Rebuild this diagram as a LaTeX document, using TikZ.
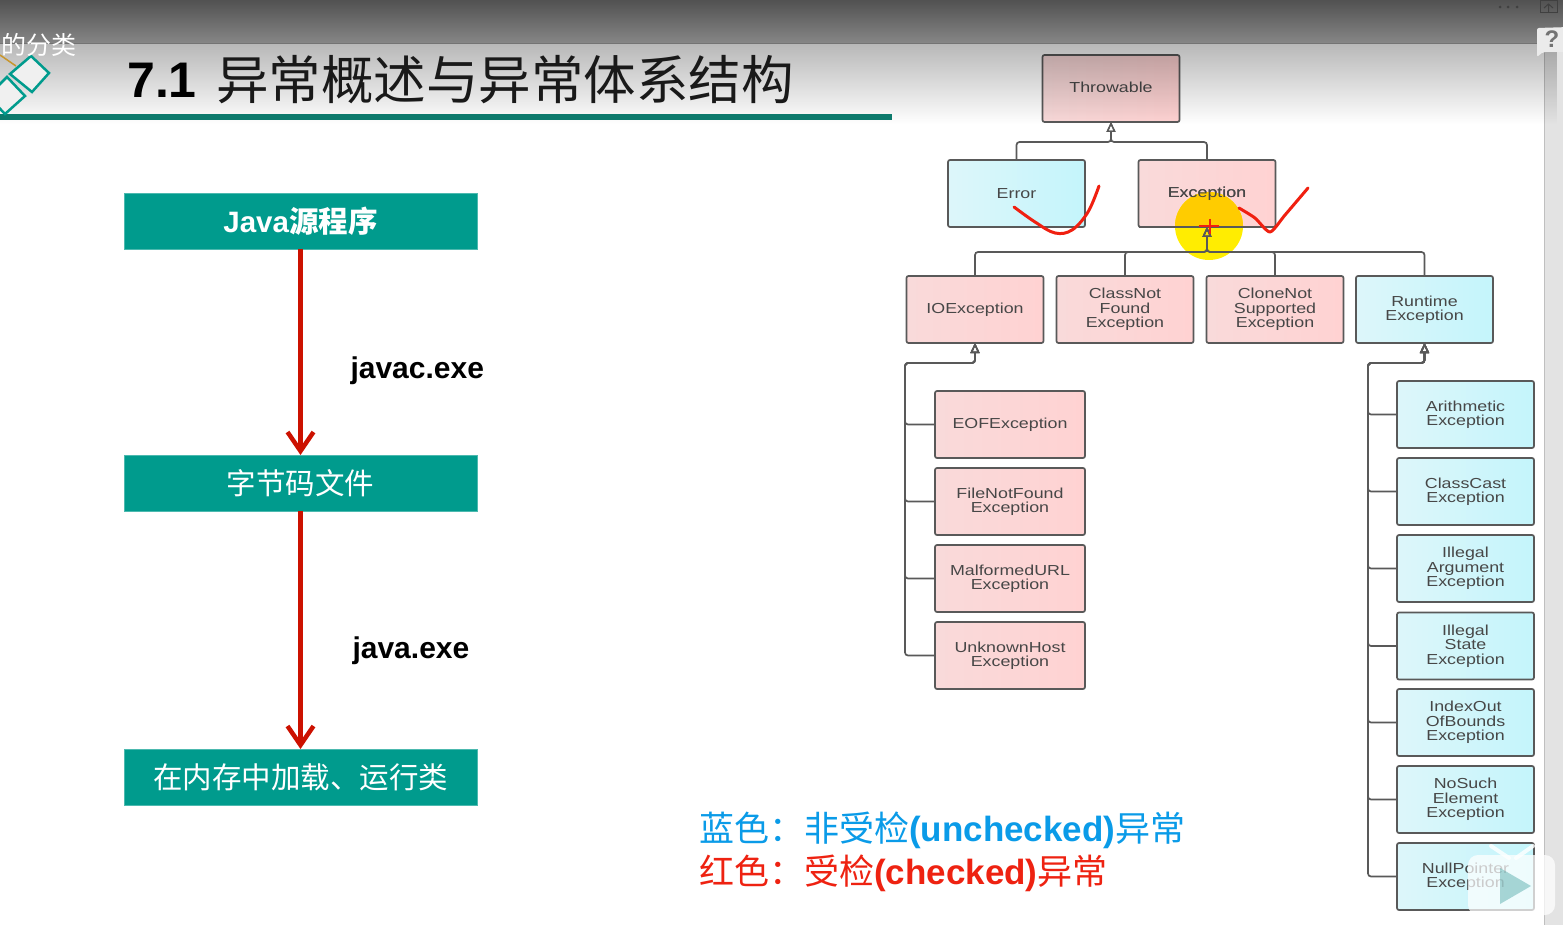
\documentclass[tikz,border=0pt]{standalone}
\usepackage{fontspec}
\setmainfont{Liberation Sans}
\newfontfamily\cjkfont{Noto Sans CJK SC}
\newfontfamily\boxfont[FakeStretch=1.23]{Liberation Sans}
\usetikzlibrary{arrows.meta, fadings}

\definecolor{tealBox}{HTML}{009B8D}
\definecolor{tealRule}{HTML}{0D7A6C}
\definecolor{flowRed}{HTML}{CC1100}
\definecolor{pinkA}{HTML}{F9DADA}
\definecolor{pinkB}{HTML}{FFD2D2}
\definecolor{cyanA}{HTML}{DDF6FA}
\definecolor{cyanB}{HTML}{C4F5FB}
\definecolor{legendBlue}{HTML}{0A9BE8}
\definecolor{legendRed}{HTML}{EE2211}
\definecolor{markRed}{HTML}{F02010}
\definecolor{logoGold}{HTML}{C8962E}

\begin{document}
\begin{tikzpicture}[
		x=1pt, y=-1pt,
		% Style for the flow boxes on the left
		flowBox/.style={fill=tealBox, draw=tealBox!70!white, line width=.8pt, minimum width=353pt, minimum height=56pt, outer sep=0pt, text=white, font=\fontsize{29.5}{32}\selectfont\bfseries},
		flowArrow/.style={draw=flowRed, line width=4.5pt, -{Straight Barb[length=19pt, width=26pt, line width=4.5pt]}},
		flowLabel/.style={font=\fontsize{30}{32}\selectfont\bfseries, text=black, anchor=west},
		% Styles for the class boxes
		classBox/.style={draw=black!65, line width=1.7pt, rounded corners=2pt, outer sep=0pt, minimum height=67pt, align=center, text=black!72, font=\boxfont\fontsize{14.5}{14.3}\selectfont},
		pinkBox/.style={classBox, left color=pinkA, right color=pinkB},
		cyanBox/.style={classBox, left color=cyanA, right color=cyanB},
		narrowBox/.style={minimum width=137pt},
		wideBox/.style={minimum width=150pt},
		conn/.style={draw=black!65, line width=1.7pt, rounded corners=3pt},
		connTip/.style={conn, -{Triangle[open, length=10pt, width=9pt, line width=1.4pt]}},
		redMark/.style={draw=markRed, line width=3pt, line cap=round, line join=round},
		legendText/.style={anchor=west, font=\fontsize{35}{38}\selectfont}
		]
		\useasboundingbox (0,0) rectangle (1563,925);
		\clip (0,0) rectangle (1563,925);
		
		% PAGE
		\fill[white] (0,0) rectangle (1563,925);
		\fill[black!11] (1544,44) rectangle (1563,925);
		\draw[black!25, line width=1pt] (1544,44) -- (1544,925);
		
		% FLOW ON THE LEFT
		\node[flowBox] (srcBox) at (300.5,221) {Java{\cjkfont 源程序}};
		\node[flowBox] (byteBox) at (300.5,483) {\cjkfont\mdseries 字节码文件};
		\node[flowBox] (loadBox) at (300.5,777) {\cjkfont\mdseries 在内存中加载、运行类};
		\draw[flowArrow] (srcBox) -- (byteBox);
		\draw[flowArrow] (byteBox) -- (loadBox);
		\node[flowLabel] (javacLabel) at (347,371) {javac.exe};
		\node[flowLabel] (javaLabel) at (349,651) {java.exe};
		
		% CLASS TREE
		\node[pinkBox, narrowBox] (throwable) at (1111,88.5) {\raisebox{2.5pt}{Throwable}};
		\node[cyanBox, narrowBox] (error) at (1016.5,193.5) {Error};
		\node[pinkBox, narrowBox] (exception) at (1207,193.5) {Exception};
		
		% Marker under the pointer
		\fill[yellow!95!orange] (1209,226) circle (34);
		\begin{scope}
			\clip (1139,160) rectangle (1275,227);
			\fill[orange!40!yellow] (1209,226) circle (34);
		\end{scope}
		\node[classBox, draw=none] (exceptionText) at (exception.center) {Exception};
		\draw[black!65, line width=1.7pt] (exception.south west) -- (exception.south east);
		
		\node[pinkBox, narrowBox] (ioEx) at (975,309.5) {IOException};
		\node[pinkBox, narrowBox] (classNotFound) at (1125,309.5) {ClassNot\\Found\\Exception};
		\node[pinkBox, narrowBox] (cloneNot) at (1275,309.5) {CloneNot\\Supported\\Exception};
		\node[cyanBox, narrowBox] (runtimeEx) at (1424.5,309.5) {Runtime\\Exception};
		
		\node[pinkBox, wideBox] (eof) at (1010,424.5) {EOFException};
		\node[pinkBox, wideBox] (fileNot) at (1010,501.5) {FileNotFound\\Exception};
		\node[pinkBox, wideBox] (malformed) at (1010,578.5) {MalformedURL\\Exception};
		\node[pinkBox, wideBox] (unknownHost) at (1010,655.5) {UnknownHost\\Exception};
		
		\node[cyanBox, narrowBox] (arithmetic) at (1465.5,414.5) {Arithmetic\\Exception};
		\node[cyanBox, narrowBox] (classCast) at (1465.5,491.5) {ClassCast\\Exception};
		\node[cyanBox, narrowBox] (illegalArg) at (1465.5,568.5) {Illegal\\Argument\\Exception};
		\node[cyanBox, narrowBox] (illegalState) at (1465.5,646) {Illegal\\State\\Exception};
		\node[cyanBox, narrowBox] (indexOut) at (1465.5,722.5) {IndexOut\\OfBounds\\Exception};
		\node[cyanBox, narrowBox] (noSuch) at (1465.5,799.5) {NoSuch\\Element\\Exception};
		\node[cyanBox, narrowBox] (nullPointer) at (1465.5,876.5) {NullPointer\\Exception};
		
		% Connectors
		\coordinate (busThrow) at (1111,142);
		\coordinate (busExc) at (1207,252);
		\coordinate (busIO) at (975,363);
		\coordinate (railIO) at (905,363);
		\coordinate (busRun) at (1424.5,363);
		\coordinate (railRun) at (1368,363);
		\foreach \child in {error, exception} {
			\draw[connTip] (\child.north) |- (busThrow) -- (throwable.south);
		}
		\foreach \child in {ioEx, classNotFound, cloneNot, runtimeEx} {
			\draw[connTip] (\child.north) |- (busExc) -- (exception.south);
		}
		\foreach \child in {eof, fileNot, malformed, unknownHost} {
			\draw[connTip] (\child.west) -| (railIO) -- (busIO) -- (ioEx.south);
		}
		\foreach \child in {arithmetic, classCast, illegalArg, illegalState, indexOut, noSuch, nullPointer} {
			\draw[connTip] (\child.west) -| (railRun) -- (busRun) -- (runtimeEx.south);
		}
		
		% Pen marks
		\draw[redMark] plot[smooth, tension=.6] coordinates {(1014,207) (1035,222) (1055,233) (1072,230) (1088,212) (1099,186)};
		\draw[redMark] plot[smooth, tension=.4] coordinates {(1239,208) (1255,218) (1270,232) (1285,215) (1308,188)};
		\draw[markRed, line width=1.6pt] (1199,226) -- (1219,226) (1210,219) -- (1210,234);
		
		% HEADER
		\fill[black, opacity=.28, path fading=south] (0,44) rectangle (1563,124);
		\shade[top color=black!68, bottom color=black!47] (0,0) rectangle (1563,44);
		\draw[black!55, line width=1pt] (0,44) -- (1563,44);
		\fill[tealRule] (0,114) rectangle (892,120);
		\draw[logoGold, line width=1.5pt] (0,55) -- (16,66);
		\draw[tealBox, line width=2.5pt, fill=black!6] (31,56) -- (49,73) -- (32,92) -- (10,74) -- cycle;
		\draw[tealBox, line width=2.5pt, fill=black!6] (7,77) -- (25,96) -- (5,114) -- (-12,96) -- cycle;
		\node[anchor=west, inner sep=0pt, text=white, font=\cjkfont\fontsize{25}{28}\selectfont] (topLabel) at (1,45) {的分类};
		\node[anchor=west, inner sep=0pt, font=\bfseries\fontsize{50}{52}\selectfont] (titleNum) at (127,80) {7.1};
		\node[anchor=west, inner sep=0pt, font=\cjkfont\fontsize{52.5}{56}\selectfont, text=black!90] (titleText) at (216,80) {异常概述与异常体系结构};
		\foreach \dotx in {1500,1508,1517} {
			\fill[black!75] (\dotx,7) circle (1.5);
		}
		\draw[black!75, line width=1pt] (1540,1) rectangle (1557,13);
		\draw[black!75, line width=1pt] (1544,8) -- (1548.5,4) -- (1553,8) (1548.5,4) -- (1548.5,13);
		\fill[black!8, rounded corners=2pt] (1537,57) -- (1537,28) -- (1570,27) -- (1570,52) -- (1543,52) -- cycle;
		\node[inner sep=0pt, text=black!55, font=\bfseries\fontsize{24}{26}\selectfont] (helpMark) at (1552,39) {?};
		
		% LEGEND
		\node[legendText, inner sep=0pt, text=legendBlue] (legendBlueText) at (699,830) {{\cjkfont 蓝色：非受检}\textbf{(unchecked)}{\cjkfont 异常}};
		\node[legendText, inner sep=0pt, text=legendRed] (legendRedText) at (699,873) {{\cjkfont 红色：受检}\textbf{(checked)}{\cjkfont 异常}};
		
		% PLAYER ICON
		\draw[white, opacity=.8, line width=4pt, line cap=round] (1491,846) -- (1509,858) (1533,846) -- (1516,858);
		\fill[white, opacity=.72, rounded corners=10pt] (1468,855) rectangle (1555,915);
		\fill[white, opacity=.8] (1490,917) circle (4) (1533,917) circle (4);
		\fill[teal!70!white, opacity=.45] (1500,868) -- (1531,886) -- (1500,904) -- cycle;
	\end{tikzpicture}
\end{document}
